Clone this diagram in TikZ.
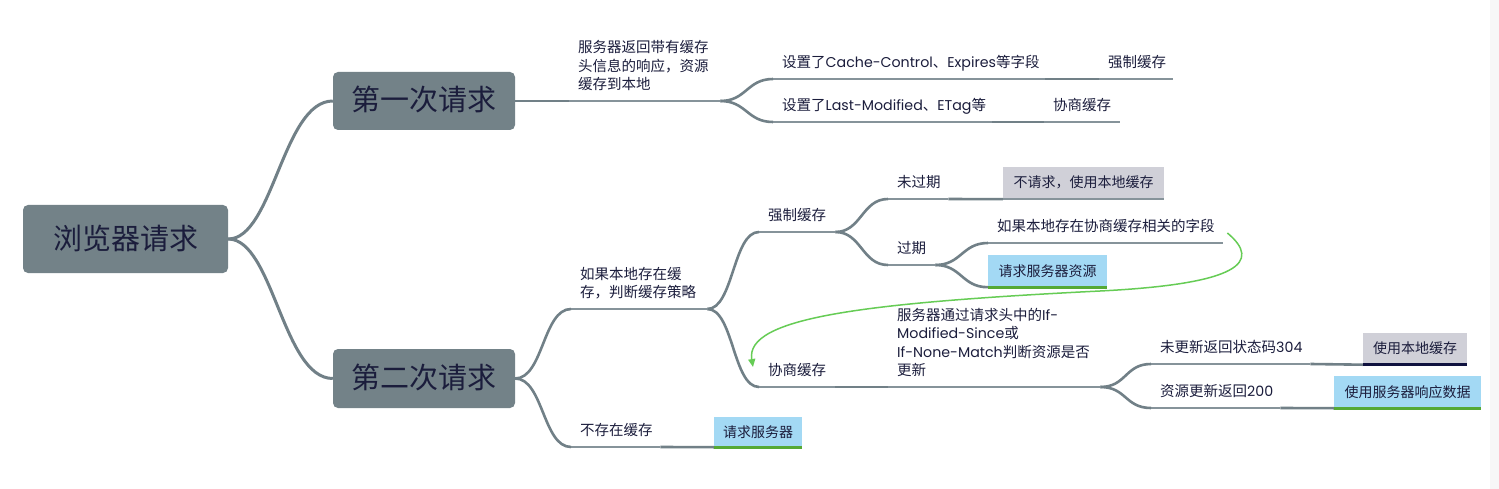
\documentclass[tikz,border=0pt]{standalone}
\usepackage{fontspec}
\setmainfont{Noto Sans CJK SC}
\newfontfamily\lat{Poppins}[Scale=0.98]
\usepackage{tikz}
\usetikzlibrary{arrows.meta}

\definecolor{boxgray}{HTML}{738288}
\definecolor{inkblue}{HTML}{1B1D3C}
\definecolor{linegray}{HTML}{86939A}
\definecolor{linkgray}{HTML}{718087}
\definecolor{skyblue}{HTML}{A3D9F4}
\definecolor{palegray}{HTML}{D0D0D8}
\definecolor{leafgreen}{HTML}{55A935}
\definecolor{navyline}{HTML}{10123F}
\definecolor{arrowgreen}{HTML}{66CC55}

\hyphenpenalty=10000
\exhyphenpenalty=10000
\def\ue{\rule[-11pt]{0pt}{11pt}}

\tikzset{
  mainbox/.style={fill=boxgray, rounded corners=5pt, text=inkblue, inner sep=0pt,
    font={\fontsize{29}{34}\selectfont}, text height=21pt, text depth=1pt},
  topic/.style={anchor=south west, inner xsep=9pt, inner ysep=0pt, text width=#1pt,
    align=left, text=inkblue, execute at end node={\ue},
    font={\fontsize{14.5}{18.5}\selectfont},
    append after command={(\tikzlastnode.south west) edge[uline] (\tikzlastnode.south east)}},
  leaf/.style 2 args={fill=#1, text=inkblue, inner sep=0pt,
    font={\fontsize{14}{17}\selectfont}, text height=11pt, text depth=1pt,
    append after command={(\tikzlastnode.south west) edge[draw=#2, line width=2.6pt] (\tikzlastnode.south east)}},
  uline/.style={draw=linegray, line width=2.6pt},
  link/.style={draw=linkgray, line width=2.6pt},
  trunk/.style={draw=linkgray, line width=3pt},
  flow/.style={draw=arrowgreen, line width=1.5pt, -{Triangle[length=8pt,width=7pt]}}
}

\begin{document}
\begin{tikzpicture}[x=1pt,y=-1pt]
%%%%% FRAME %%%%%
\useasboundingbox (0,0) rectangle (1499,489);
\fill[white] (0,0) rectangle (1499,489);
\fill[black!3] (1490,0) rectangle (1499,489);

%%%%% MAIN BOXES %%%%%
\node[mainbox, minimum width=205pt, minimum height=68pt] (root) at (125.5,239) {浏览器请求};
\node[mainbox, minimum width=182pt, minimum height=58pt] (first) at (424,101) {第一次请求};
\node[mainbox, minimum width=182pt, minimum height=59pt] (second) at (424,378.5) {第二次请求};

%%%%% FIRST REQUEST %%%%%
\node[topic=133] (resp) at (569,101) {服务器返回带有缓存\\头信息的响应，资源\\缓存到本地};
\node[topic=254] (ccset) at (773,79) {设置了{\lat Cache-Control}、{\lat Expires}等字段};
\node[topic=56] (strong1) at (1099,79) {强制缓存};
\node[topic=201] (etagset) at (773,122) {设置了{\lat Last-Modified}、{\lat ETag}等};
\node[topic=58] (nego1) at (1044,122) {协商缓存};

%%%%% SECOND REQUEST %%%%%
\node[topic=118] (judge) at (571,309) {如果本地存在缓\\存，判断缓存策略};
\node[topic=71] (nocache) at (571,447) {不存在缓存};
\node[leaf={skyblue}{leafgreen}, minimum width=88pt, minimum height=30pt] (reqsrv) at (758,432) {请求服务器};

\node[topic=58] (strong2) at (759,232) {强制缓存};
\node[topic=42] (fresh) at (888,199) {未过期};
\node[leaf={palegray}{linegray}, minimum width=161pt, minimum height=32pt] (noreq) at (1083.5,183) {不请求，使用本地缓存};
\node[topic=29] (stale) at (888,265) {过期};
\node[topic=217] (hasnego) at (988,243) {如果本地存在协商缓存相关的字段};
\node[leaf={skyblue}{leafgreen}, minimum width=119pt, minimum height=32pt] (reqres) at (1047.5,271) {请求服务器资源};

\node[topic=58] (nego2) at (759,387) {协商缓存};
\node[topic=194] (ifhdr) at (888,387) {服务器通过请求头中的{\lat If-}\\{\lat Modified-Since}或\\{\lat If-None-Match}判断资源是否\\更新};
\node[topic=141] (notmod) at (1151,364) {未更新返回状态码{\lat 304}};
\node[leaf={palegray}{navyline}, minimum width=104pt, minimum height=32pt] (uselocal) at (1415,348.5) {使用本地缓存};
\node[topic=111] (modified) at (1151,408) {资源更新返回{\lat 200}};
\node[leaf={skyblue}{leafgreen}, minimum width=147pt, minimum height=32pt] (useresp) at (1407.5,392) {使用服务器响应数据};

%%%%% CONNECTORS %%%%%
\draw[trunk] (root.east) .. controls +(45,0) and +(-50,0) .. (first.west);
\draw[trunk] (root.east) .. controls +(45,0) and +(-50,0) .. (second.west);

\draw[link] (first.east) -- (resp.south west);
\draw[link] (resp.south east) .. controls +(26,0) and +(-26,0) .. (ccset.south west);
\draw[link] (resp.south east) .. controls +(26,0) and +(-26,0) .. (etagset.south west);
\draw[link] (ccset.south east) -- (strong1.south west);
\draw[link] (etagset.south east) -- (nego1.south west);

\draw[link] (second.east) .. controls +(28,0) and +(-28,0) .. (judge.south west);
\draw[link] (second.east) .. controls +(28,0) and +(-28,0) .. (nocache.south west);
\draw[link] (nocache.south east) -- (reqsrv.south west);

\draw[link] (judge.south east) .. controls +(26,0) and +(-26,0) .. (strong2.south west);
\draw[link] (judge.south east) .. controls +(26,0) and +(-26,0) .. (nego2.south west);
\draw[link] (strong2.south east) .. controls +(26,0) and +(-26,0) .. (fresh.south west);
\draw[link] (strong2.south east) .. controls +(26,0) and +(-26,0) .. (stale.south west);
\draw[link] (fresh.south east) -- (noreq.south west);
\draw[link] (stale.south east) .. controls +(26,0) and +(-26,0) .. (hasnego.south west);
\draw[link] (stale.south east) .. controls +(26,0) and +(-26,0) .. (reqres.south west);

\draw[link] (nego2.south east) -- (ifhdr.south west);
\draw[link] (ifhdr.south east) .. controls +(26,0) and +(-26,0) .. (notmod.south west);
\draw[link] (ifhdr.south east) .. controls +(26,0) and +(-26,0) .. (modified.south west);
\draw[link] (notmod.south east) -- (uselocal.south west);
\draw[link] (modified.south east) -- (useresp.south west);

%%%%% GREEN ARROW %%%%%
\draw[flow] ([shift={(4,-10)}]hasnego.south east) .. controls (1262,262) and (1240,284) .. (1100,291)
  .. controls (860,303) and (745,318) .. ([shift={(-6,-20)}]nego2.south west);
\end{tikzpicture}
\end{document}
